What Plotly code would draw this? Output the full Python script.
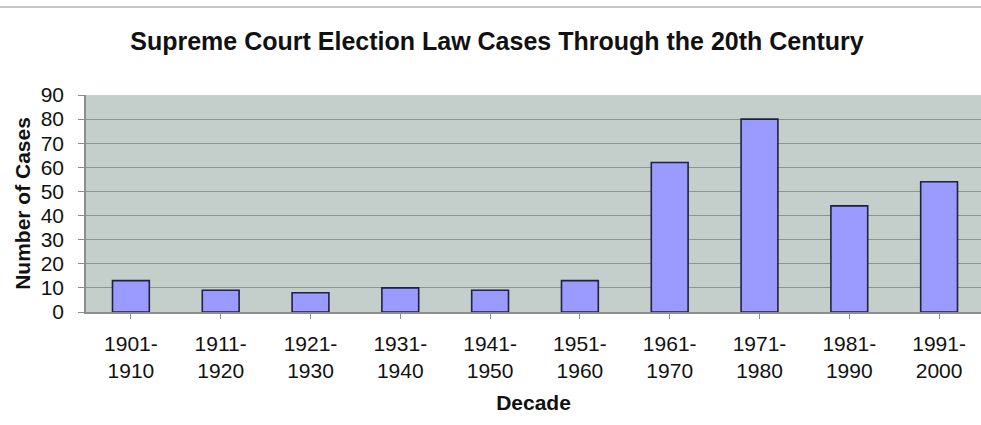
import plotly.graph_objects as go

# Election law cases heard by the Supreme Court, grouped by decade
decades = ["1901-<br>1910", "1911-<br>1920", "1921-<br>1930", "1931-<br>1940",
           "1941-<br>1950", "1951-<br>1960", "1961-<br>1970", "1971-<br>1980",
           "1981-<br>1990", "1991-<br>2000"]
cases = [13, 9, 8, 10, 9, 13, 62, 80, 44, 54]
y_ticks = [0, 10, 20, 30, 40, 50, 60, 70, 80, 90]

W, H = 981, 425
L, R, T, B = 86, 0, 95, 113

fig = go.Figure(
    go.Bar(
        x=list(range(len(decades))),
        y=cases,
        width=0.41,
        marker=dict(color="#9a9aff", line=dict(color="#1f2042", width=1.6)),
        hoverinfo="y",
    )
)

font = "Liberation Sans, Arial, sans-serif"

fig.update_layout(
    width=W,
    height=H,
    margin=dict(l=L, r=R, t=T, b=B, pad=0),
    paper_bgcolor="white",
    plot_bgcolor="#c4cfcc",
    showlegend=False,
    font=dict(family=font, size=21, color="#111111"),
    title=dict(
        text="<b>Supreme Court Election Law Cases Through the 20th Century</b>",
        x=497 / W, xref="container", xanchor="center",
        y=1 - 41 / H, yref="container", yanchor="middle",
        font=dict(family=font, size=25, color="#111111"),
    ),
    xaxis=dict(
        tickmode="array",
        tickvals=list(range(len(decades))),
        ticktext=decades,
        range=[-0.5, -0.5 + (W - L - R) / 89.8],
        showgrid=False,
        zeroline=False,
        showline=True,
        linecolor="#8a8f8d",
        linewidth=1.5,
        ticks="outside",
        ticklen=5,
        tickcolor="#8a8f8d",
        tickwidth=1,
        tickson="boundaries",
        ticklabelstandoff=7,
        tickfont=dict(size=21),
        title=dict(text="<b>Decade</b>", font=dict(size=21), standoff=14),
    ),
    yaxis=dict(
        range=[0, 90],
        tickmode="array",
        tickvals=y_ticks,
        showgrid=True,
        gridcolor="#8a9592",
        gridwidth=1.4,
        zeroline=False,
        showline=True,
        linecolor="#8a8f8d",
        linewidth=1.5,
        ticks="outside",
        ticklen=6,
        tickcolor="#8a8f8d",
        ticklabelstandoff=10,
        tickfont=dict(size=21),
        title=dict(text="<b>Number of Cases</b>", font=dict(size=21), standoff=4),
    ),
)

# thin gray rule across the top of the page
plot_h = H - T - B
plot_w = W - L - R
fig.add_shape(
    type="line",
    xref="paper", yref="paper",
    x0=-L / plot_w, x1=1,
    y0=1 + (T - 7) / plot_h, y1=1 + (T - 7) / plot_h,
    line=dict(color="#c6c6c6", width=2),
)

fig.write_html("out.html")
